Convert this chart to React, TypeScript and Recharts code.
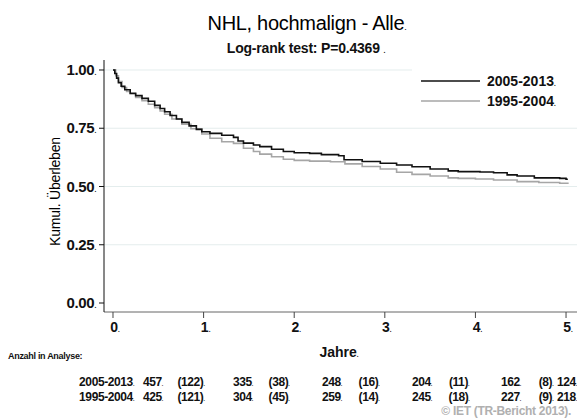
import { LineChart, Line, XAxis, YAxis, CartesianGrid } from "recharts";

// Kaplan-Meier steps (years, cumulative survival)
const years2005 = [0, 0.02, 0.04, 0.06, 0.09, 0.13, 0.19, 0.25, 0.32, 0.39, 0.46, 0.52, 0.57, 0.63, 0.7, 0.76, 0.84, 0.92, 0.98, 1.07, 1.2, 1.33, 1.38, 1.44, 1.55, 1.62, 1.75, 1.88, 2.0, 2.17, 2.3, 2.49, 2.55, 2.75, 2.95, 3.13, 3.3, 3.5, 3.7, 3.81, 4.05, 4.2, 4.35, 4.46, 4.65, 4.93, 5.0, 5.02];
const surv2005 = [1.0, 0.985, 0.965, 0.945, 0.93, 0.915, 0.9, 0.89, 0.878, 0.866, 0.848, 0.835, 0.821, 0.805, 0.79, 0.775, 0.76, 0.745, 0.735, 0.728, 0.72, 0.711, 0.695, 0.686, 0.678, 0.671, 0.66, 0.65, 0.645, 0.642, 0.637, 0.632, 0.615, 0.607, 0.6, 0.592, 0.585, 0.575, 0.567, 0.564, 0.562, 0.559, 0.55, 0.545, 0.537, 0.535, 0.531, 0.531];

const years1995 = [0, 0.03, 0.06, 0.1, 0.15, 0.19, 0.25, 0.32, 0.39, 0.46, 0.52, 0.57, 0.65, 0.76, 0.86, 0.98, 1.07, 1.2, 1.33, 1.44, 1.55, 1.62, 1.75, 1.88, 2.0, 2.17, 2.4, 2.56, 2.75, 2.95, 3.13, 3.3, 3.5, 3.7, 3.81, 4.0, 4.2, 4.46, 4.7, 4.93, 5.02];
const surv1995 = [1.0, 0.975, 0.95, 0.925, 0.908, 0.897, 0.882, 0.868, 0.853, 0.838, 0.824, 0.81, 0.79, 0.767, 0.748, 0.725, 0.707, 0.692, 0.685, 0.664, 0.65, 0.639, 0.628, 0.617, 0.612, 0.609, 0.606, 0.597, 0.586, 0.575, 0.561, 0.552, 0.545, 0.537, 0.535, 0.532, 0.528, 0.521, 0.517, 0.514, 0.511];

const xTicks = [0, 1, 2, 3, 4, 5];
const yTicks = [0, 0.25, 0.5, 0.75, 1];
const yTickLabels = ["0.00", "0.25", "0.50", "0.75", "1.00"];

const groups = ["2005-2013", "1995-2004"];
const atRisk2005 = ["457", "(122)", "335", "(38)", "248", "(16)", "204", "(11)", "162", "(8)", "124"];
const atRisk1995 = ["425", "(121)", "304", "(45)", "259", "(14)", "245", "(18)", "227", "(9)", "218"];

const line2005 = years2005.map((t, i) => ({ t, s: surv2005[i] }));
const line1995 = years1995.map((t, i) => ({ t, s: surv1995[i] }));

const FONT = "'Liberation Sans', Arial, sans-serif";
const colX = [153, 191, 243, 279, 332, 369, 422, 459, 511, 546, 567];

function Dotted({ x, y, text, size, anchor, weight = "bold", fill = "#111", spacing = 0 }: any) {
  return (
    <text x={x} y={y} textAnchor={anchor} fontFamily={FONT} fontSize={size} fontWeight={weight} fill={fill} letterSpacing={spacing}>
      {text}
      <tspan fontSize={size * 0.45}>.</tspan>
    </text>
  );
}

const YTick = ({ x, y, payload }: any) => (
  <Dotted x={x - 1} y={y + 5} size={15} anchor="end" spacing={-0.3} text={yTickLabels[yTicks.indexOf(payload.value)]} />
);

const XTick = ({ x, y, payload }: any) => (
  <Dotted x={x + 2} y={y + 12} size={14} anchor="middle" text={String(payload.value)} />
);

export default function App() {
  return (
    <div style={{ position: "absolute", left: 0, top: 0, width: 577, height: 419, background: "#fff" }}>
      <LineChart width={577} height={419} margin={{ top: 60, right: 0, bottom: 77, left: 44 }}>
        <CartesianGrid vertical={false} horizontalValues={[0.25, 0.5, 0.75, 1]} stroke="#e4eded" />
        <XAxis
          type="number"
          dataKey="t"
          domain={[-0.0993, 5.121]}
          ticks={xTicks}
          allowDataOverflow
          height={30}
          stroke="#666"
          tickLine={{ stroke: "#444" }}
          tickSize={6}
          tick={<XTick />}
        />
        <YAxis
          type="number"
          dataKey="s"
          domain={[-0.0386, 1.0429]}
          ticks={yTicks}
          allowDataOverflow
          width={60}
          stroke="#111"
          tickSize={5}
          tick={<YTick />}
          label={{
            value: "Kumul. Überleben",
            angle: -90,
            position: "insideLeft",
            dx: 6,
            dy: 60,
            style: { fontFamily: FONT, fontSize: 14, fill: "#000", letterSpacing: -0.2 },
          }}
        />
        <Line data={line1995} dataKey="s" type="stepAfter" stroke="#a6a6a6" strokeWidth={1.6} dot={false} isAnimationActive={false} />
        <Line data={line2005} dataKey="s" type="stepAfter" stroke="#111" strokeWidth={1.6} dot={false} isAnimationActive={false} />
      </LineChart>
      <svg width={577} height={419} style={{ position: "absolute", left: 0, top: 0, pointerEvents: "none" }}>
        <text x={307} y={30} textAnchor="middle" fontFamily={FONT} fontSize={20} fill="#000" letterSpacing={-0.3}>
          NHL, hochmalign - Alle<tspan fontSize={9}>.</tspan>
        </text>
        <text x={306} y={53} textAnchor="middle" fontFamily={FONT} fontSize={14} fontWeight="bold" fill="#111" letterSpacing={-0.2}>
          Log-rank test: P=0.4369 <tspan fontSize={7}>.</tspan>
        </text>
        <rect x={412} y={63} width={165} height={46} fill="#fff" />
        <line x1={421} x2={480} y1={81} y2={81} stroke="#111" strokeWidth={1.6} />
        <line x1={421} x2={480} y1={101} y2={101} stroke="#a6a6a6" strokeWidth={1.6} />
        <Dotted x={487} y={86} size={14} anchor="start" text={groups[0]} />
        <Dotted x={487} y={106} size={14} anchor="start" text={groups[1]} />
        <Dotted x={339} y={357} size={14} anchor="middle" text="Jahre" />
        <text x={8} y={359} fontFamily={FONT} fontSize={9} fontWeight="bold" fill="#111" letterSpacing={-0.3}>
          Anzahl in Analyse:
        </text>
        <Dotted x={134} y={386} size={12} anchor="end" spacing={-0.4} text={groups[0]} />
        <Dotted x={134} y={401} size={12} anchor="end" spacing={-0.4} text={groups[1]} />
        {atRisk2005.map((v, i) => (
          <Dotted key={"a" + i} x={colX[i]} y={386} size={12} anchor="middle" spacing={-0.4} text={v} />
        ))}
        {atRisk1995.map((v, i) => (
          <Dotted key={"b" + i} x={colX[i]} y={401} size={12} anchor="middle" spacing={-0.4} text={v} />
        ))}
        <text x={571} y={415} textAnchor="end" fontFamily={FONT} fontSize={12} fontWeight="bold" fill="#b0b0b0" letterSpacing={-0.3}>
          © IET (TR-Bericht 2013).
        </text>
      </svg>
    </div>
  );
}
